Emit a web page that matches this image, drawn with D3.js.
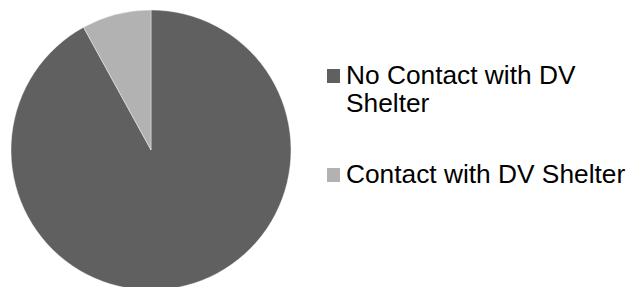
<!DOCTYPE html>
<html>
<head>
<meta charset="utf-8">
<script src="https://cdn.jsdelivr.net/npm/d3@7"></script>
<style>
html,body{margin:0;padding:0;background:#fff;}
svg{display:block;}
</style>
</head>
<body>
<svg id="chart" width="627" height="287"></svg>
<script>
const categories = ["No Contact with DV Shelter", "Contact with DV Shelter"];
const values = [92, 8];
const legendLines = [["No Contact with DV", "Shelter"], ["Contact with DV Shelter"]];
const colors = ["#606060", "#b2b2b2"];

const svg = d3.select("#chart");
const cx = 151, cy = 150, r = 140;
const data = categories.map((c, i) => ({name: c, value: values[i]}));
const pie = d3.pie().value(d => d.value).sort(null);
const arc = d3.arc().innerRadius(0).outerRadius(r);
const color = d3.scaleOrdinal().domain(categories).range(colors);

svg.append("g").attr("transform", `translate(${cx},${cy})`)
  .selectAll("path").data(pie(data)).join("path")
  .attr("d", arc)
  .attr("fill", d => color(d.data.name))
  .attr("stroke", "#ffffff").attr("stroke-width", 0.4);

const legendY = [84, 183];
const lg = svg.append("g").attr("font-family", "Liberation Sans, Arial, sans-serif")
  .attr("font-size", 26.3).attr("fill", "#000");
categories.forEach((c, i) => {
  lg.append("rect").attr("x", 327).attr("y", legendY[i] - 15).attr("width", 13).attr("height", 14)
    .attr("fill", color(c));
  const t = lg.append("text").attr("x", 346).attr("y", legendY[i]);
  legendLines[i].forEach((ln, j) => {
    t.append("tspan").attr("x", 346).attr("dy", j === 0 ? 0 : 28).text(ln);
  });
});
</script>
</body>
</html>
